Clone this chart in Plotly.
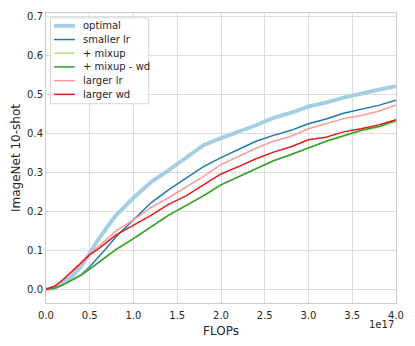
import plotly.graph_objects as go

# FLOPs in units of 1e17
flops_e17 = [0, 0.1, 0.2, 0.3, 0.4, 0.5, 0.6, 0.7, 0.8, 1.0, 1.2, 1.4, 1.6,
             1.8, 2.0, 2.2, 2.4, 2.6, 2.8, 3.0, 3.2, 3.4, 3.6, 3.8, 4.0]

optimal = [0, 0.004, 0.016, 0.034, 0.058, 0.095, 0.128, 0.160, 0.190, 0.235,
           0.275, 0.305, 0.338, 0.370, 0.388, 0.404, 0.421, 0.440, 0.453,
           0.469, 0.479, 0.492, 0.503, 0.512, 0.521]
smaller_lr = [0, 0.003, 0.012, 0.024, 0.038, 0.058, 0.082, 0.108, 0.135,
              0.178, 0.222, 0.255, 0.285, 0.315, 0.338, 0.358, 0.380, 0.395,
              0.408, 0.425, 0.437, 0.452, 0.462, 0.472, 0.485]
mixup = [0, 0.003, 0.012, 0.025, 0.037, 0.053, 0.069, 0.086, 0.103, 0.131,
         0.161, 0.191, 0.216, 0.241, 0.269, 0.290, 0.311, 0.330, 0.345,
         0.363, 0.379, 0.393, 0.406, 0.416, 0.431]
mixup_wd = [0, 0.003, 0.012, 0.024, 0.036, 0.052, 0.068, 0.085, 0.102, 0.130,
            0.160, 0.190, 0.215, 0.240, 0.268, 0.288, 0.310, 0.330, 0.346,
            0.364, 0.380, 0.394, 0.408, 0.418, 0.433]
larger_lr = [0, 0.008, 0.025, 0.045, 0.065, 0.090, 0.110, 0.130, 0.150,
             0.178, 0.210, 0.235, 0.262, 0.290, 0.320, 0.342, 0.362, 0.380,
             0.393, 0.412, 0.425, 0.438, 0.446, 0.457, 0.473]
larger_wd = [0, 0.008, 0.026, 0.048, 0.068, 0.089, 0.104, 0.122, 0.140,
             0.165, 0.190, 0.218, 0.240, 0.268, 0.296, 0.315, 0.335, 0.352,
             0.366, 0.384, 0.390, 0.404, 0.412, 0.422, 0.435]

names = ["optimal", "smaller lr", "+ mixup", "+ mixup - wd", "larger lr", "larger wd"]
values = [optimal, smaller_lr, mixup, mixup_wd, larger_lr, larger_wd]
colors = ["#a6cee3", "#1f78b4", "#b2df8a", "#33a02c", "#fb9a99", "#e31a1c"]
widths = [4, 1.5, 1.5, 1.5, 1.5, 1.5]

x = [v * 1e17 for v in flops_e17]

fig = go.Figure()
for name, ys, color, w in zip(names, values, colors, widths):
    fig.add_trace(go.Scatter(x=x, y=ys, mode="lines", name=name,
                             line=dict(color=color, width=w), showlegend=False))

# matplotlib-like legend box drawn in paper space (compact row spacing)
PLOT_W, PLOT_H = 351, 294
def px(v):
    return (v - 46) / PLOT_W
def py(v):
    return (305 - v) / PLOT_H

fig.add_shape(type="rect", xref="paper", yref="paper",
              x0=px(50.5), x1=px(149), y0=py(103), y1=py(16),
              line=dict(color="#d6d6d6", width=1), fillcolor="rgba(255,255,255,0.85)",
              layer="above")
for i, (name, color, w) in enumerate(zip(names, colors, widths)):
    ry = 24 + i * 13.9
    fig.add_shape(type="line", xref="paper", yref="paper",
                  x0=px(54), x1=px(75), y0=py(ry), y1=py(ry),
                  line=dict(color=color, width=w), layer="above")
    fig.add_annotation(text=name, xref="paper", yref="paper",
                       x=px(81), y=py(ry), xanchor="left", yanchor="middle",
                       showarrow=False, font=dict(size=10, color="#262626"))

tick_x = [i * 0.5 for i in range(9)]

fig.update_layout(
    width=415, height=346,
    margin=dict(l=46, r=18, t=11, b=41),
    paper_bgcolor="white", plot_bgcolor="white",
    font=dict(family="DejaVu Sans", size=10, color="#262626"),
    showlegend=False,
)
fig.update_xaxes(
    range=[0, 4e17], tickvals=[v * 1e17 for v in tick_x],
    ticktext=["%.1f" % v for v in tick_x], ticklabelstandoff=3,
    showgrid=True, gridcolor="#dcdcdc", gridwidth=1,
    zeroline=False, showline=True, linecolor="#cccccc", mirror=True,
    ticks="", title=dict(text="FLOPs", standoff=6),
)
fig.update_yaxes(
    range=[-0.035, 0.709], dtick=0.1, tick0=0, tickformat=".1f",
    showgrid=True, gridcolor="#dcdcdc", gridwidth=1,
    zeroline=False, showline=True, linecolor="#cccccc", mirror=True,
    ticks="", title=dict(text="ImageNet 10-shot", standoff=3),
)
fig.add_annotation(text="1e17", xref="paper", yref="paper", x=1, y=py(327),
                   xanchor="right", yanchor="middle", showarrow=False,
                   font=dict(size=10, color="#262626"))

fig.write_html("out.html", config={"displayModeBar": False},
               post_script="document.body.style.margin='0';")
